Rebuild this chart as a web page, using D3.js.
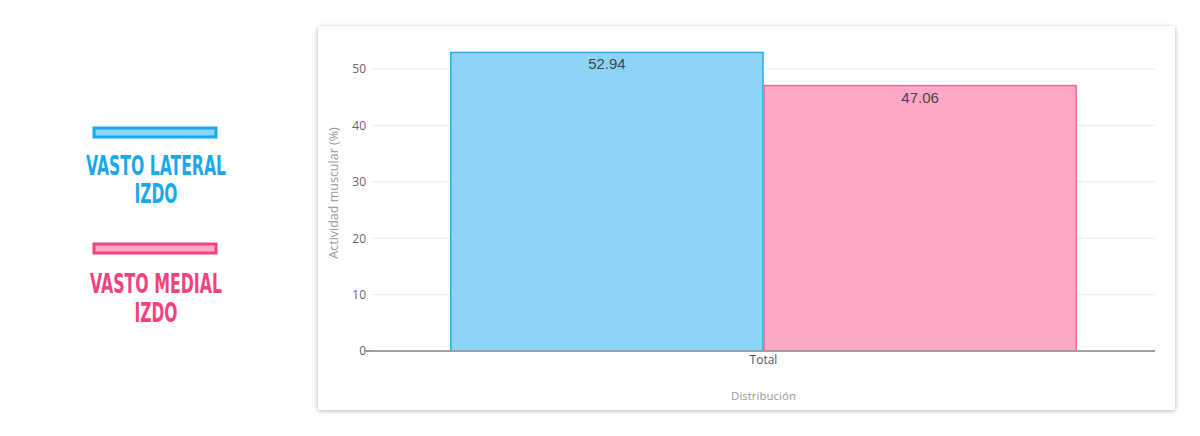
<!DOCTYPE html>
<html><head><meta charset="utf-8">
<script src="https://cdn.jsdelivr.net/npm/d3@7"></script>
<style>body{margin:0;background:#fff;}svg{display:block;}</style>
</head><body>
<svg id="c" width="1200" height="436"></svg>
<script>
const categories = ["Total"];
const seriesNames = ["VASTO LATERAL IZDO", "VASTO MEDIAL IZDO"];
const seriesLines = [["VASTO LATERAL","IZDO"],["VASTO MEDIAL","IZDO"]];
const seriesValues = [[52.94],[47.06]];
const yTicks = [0,10,20,30,40,50];
const yTitle = "Actividad muscular (%)";
const xTitle = "Distribución";
const fills = ["#8dd5f7","#ffa9c6"];
const strokes = ["#22b1ec","#f2679a"];
const textColors = ["#1ba8e8","#f0437f"];

(function(){
const svg = d3.select("#c");
const defs = svg.append("defs");
const f = defs.append("filter").attr("id","sh").attr("x","-5%").attr("y","-5%").attr("width","110%").attr("height","110%");
f.append("feDropShadow").attr("dx",0).attr("dy",1).attr("stdDeviation",2).attr("flood-color","#000").attr("flood-opacity",0.3);

svg.append("rect").attr("x",318).attr("y",26).attr("width",857).attr("height",384).attr("fill","#fff").attr("filter","url(#sh)");

const pL=372, pR=1155, pT=69, pB=351;
const y = d3.scaleLinear().domain([0,50]).range([pB,pT]);
const x0 = d3.scaleBand().domain(categories).range([pL,pR]).paddingInner(0).paddingOuter(0);
const x1 = d3.scaleBand().domain(seriesNames).range([0,x0.bandwidth()]).paddingOuter(0.25).paddingInner(0);

svg.append("g").selectAll("line").data(yTicks.filter(d=>d>0)).join("line")
  .attr("x1",pL).attr("x2",pR).attr("y1",d=>y(d)).attr("y2",d=>y(d))
  .attr("stroke","#ececec").attr("stroke-width",1);

const ya = svg.append("g").attr("transform",`translate(${pL},0)`)
  .call(d3.axisLeft(y).tickValues(yTicks).tickSize(0).tickPadding(6));
ya.select(".domain").remove();
ya.selectAll("text").attr("font-family","Open Sans, sans-serif").attr("font-size",12).attr("fill","#666");
svg.append("line").attr("x1",364).attr("x2",pL).attr("y1",y(0)).attr("y2",y(0)).attr("stroke","#999").attr("stroke-width",2);

const g = svg.append("g");
categories.forEach((c,ci)=>{
  seriesNames.forEach((s,si)=>{
    const v = seriesValues[si][ci];
    const bx = x0(c)+x1(s);
    g.append("rect").attr("x",bx+0.5).attr("y",y(v)).attr("width",x1.bandwidth()-1).attr("height",y(0)-y(v))
      .attr("fill",fills[si]).attr("stroke",strokes[si]).attr("stroke-width",1.5);
    g.append("text").attr("x",bx+x1.bandwidth()/2).attr("y",y(v)+17).attr("text-anchor","middle")
      .attr("font-family","Liberation Sans, Arial, sans-serif").attr("font-size",15).attr("fill","#444")
      .text(v.toFixed(2));
  });
});

svg.append("line").attr("x1",pL).attr("x2",pR).attr("y1",y(0)).attr("y2",y(0)).attr("stroke","#a0a0a0").attr("stroke-width",2);
svg.append("g").selectAll("text").data(categories).join("text")
  .attr("x",d=>x0(d)+x0.bandwidth()/2).attr("y",364).attr("text-anchor","middle")
  .attr("font-family","Open Sans, sans-serif").attr("font-size",12).attr("fill","#555").text(d=>d);

svg.append("text").attr("x",pL+(pR-pL)/2).attr("y",400).attr("text-anchor","middle")
  .attr("font-family","Open Sans, sans-serif").attr("font-size",11.5).attr("fill","#999").text(xTitle);
svg.append("text").attr("transform",`translate(338,193) rotate(-90)`).attr("text-anchor","middle")
  .attr("font-family","Open Sans, sans-serif").attr("font-size",12.5).attr("fill","#999").text(yTitle);

const legY = [128, 244];
const textY = [[175,203],[293,322]];
const textW = [[140,43],[132,43]];
seriesNames.forEach((s,i)=>{
  svg.append("rect").attr("x",94).attr("y",legY[i]).attr("width",122).attr("height",9)
    .attr("fill",fills[i]).attr("stroke",textColors[i]).attr("stroke-width",3);
  seriesLines[i].forEach((t,j)=>{
    svg.append("text").attr("x",156).attr("y",textY[i][j]).attr("text-anchor","middle")
      .attr("font-family","Liberation Sans Narrow, DejaVu Sans Condensed, sans-serif").attr("font-weight","bold")
      .attr("font-size",27).attr("fill",textColors[i])
      .attr("textLength",textW[i][j]).attr("lengthAdjust","spacingAndGlyphs").text(t);
  });
});
})();
</script>
</body></html>
